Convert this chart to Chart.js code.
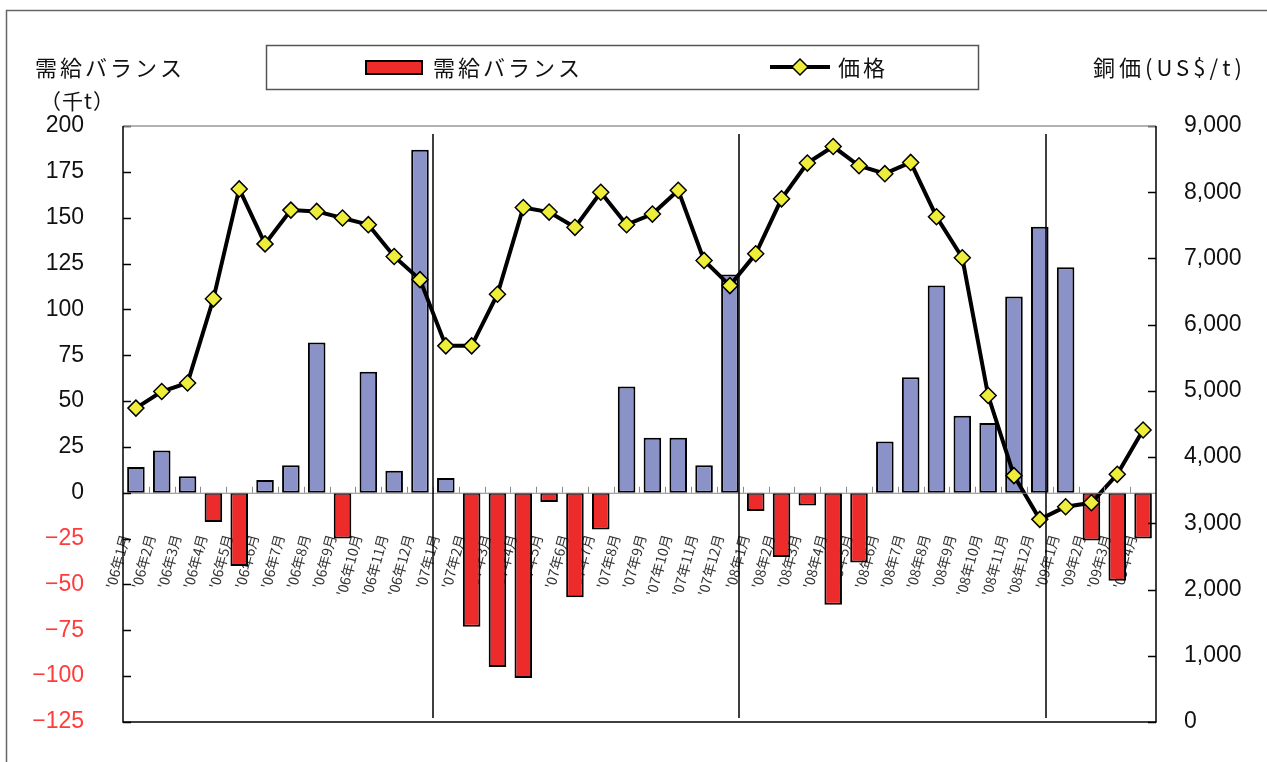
<!DOCTYPE html>
<html>
<head>
<meta charset="utf-8">
<script src="https://cdn.jsdelivr.net/npm/chart.js"></script>
<style>
  html, body { margin: 0; padding: 0; background: #fff; }
</style>
</head>
<body>
<canvas id="balanceChart" width="1267" height="762"></canvas>
<script>
// 月ラベル ('06年1月 〜 '09年4月)
const months = [
  "'06年1月", "'06年2月", "'06年3月", "'06年4月", "'06年5月", "'06年6月",
  "'06年7月", "'06年8月", "'06年9月", "'06年10月", "'06年11月", "'06年12月",
  "'07年1月", "'07年2月", "'07年3月", "'07年4月", "'07年5月", "'07年6月",
  "'07年7月", "'07年8月", "'07年9月", "'07年10月", "'07年11月", "'07年12月",
  "'08年1月", "'08年2月", "'08年3月", "'08年4月", "'08年5月", "'08年6月",
  "'08年7月", "'08年8月", "'08年9月", "'08年10月", "'08年11月", "'08年12月",
  "'09年1月", "'09年2月", "'09年3月", "'09年4月"
];

// 需給バランス (千t)
const balance = [
  14, 23, 9, -16, -40, 7, 15, 82, -25, 66, 12, 187,
  8, -73, -95, -101, -5, -57, -20, 58, 30, 30, 15, 119,
  -10, -35, -7, -61, -38, 28, 63, 113, 42, 38, 107, 145,
  123, -26, -48, -25
];

// 銅価 (US$/t)
const price = [
  4740, 4990, 5120, 6390, 8050, 7220, 7730, 7710, 7610, 7510, 7030, 6680,
  5680, 5680, 6460, 7770, 7700, 7470, 8000, 7510, 7670, 8030, 6970, 6590,
  7070, 7900, 8440, 8690, 8400, 8280, 8450, 7630, 7010, 4930, 3720, 3060,
  3250, 3310, 3740, 4410
];

// 軸の範囲
const leftAxis = { min: -125, max: 200, step: 25 };
const rightAxis = { min: 0, max: 9000, step: 1000 };

const BLUE = '#8a92c8';
const RED = '#ee2b2b';
const YELLOW = '#eeee3a';
const JP = "'Noto Sans CJK JP', sans-serif";
const NUM = "'Liberation Sans', 'Noto Sans CJK JP', sans-serif";

Chart.defaults.font.family = NUM;

function diamond(ctx, x, y, r) {
  ctx.beginPath();
  ctx.moveTo(x, y - r);
  ctx.lineTo(x + r, y);
  ctx.lineTo(x, y + r);
  ctx.lineTo(x - r, y);
  ctx.closePath();
  ctx.fillStyle = YELLOW;
  ctx.fill();
  ctx.lineWidth = 1.5;
  ctx.strokeStyle = '#000';
  ctx.stroke();
}

// 枠・目盛り・年の区切り線
const framePlugin = {
  id: 'frame',
  beforeDraw(chart) {
    const ctx = chart.ctx;
    ctx.save();
    ctx.fillStyle = '#fff';
    ctx.fillRect(0, 0, chart.width, chart.height);
    ctx.strokeStyle = '#666';
    ctx.lineWidth = 1.5;
    ctx.strokeRect(6.5, 10.5, chart.width + 20, chart.height + 20);
    ctx.restore();
  },
  afterDatasetsDraw(chart) {
    const ctx = chart.ctx;
    const a = chart.chartArea;
    const xs = chart.scales.x, ys = chart.scales.y, y1 = chart.scales.y1;
    const w = (a.right - a.left) / months.length;
    const zero = ys.getPixelForValue(0);
    ctx.save();
    // ゼロ線と区切り目盛り
    ctx.strokeStyle = '#888';
    ctx.lineWidth = 1;
    ctx.beginPath();
    ctx.moveTo(a.left, zero + 0.5);
    ctx.lineTo(a.right, zero + 0.5);
    for (let i = 1; i < months.length; i++) {
      const px = Math.round(xs.getPixelForValue(i) - w / 2) + 0.5;
      ctx.moveTo(px, zero);
      ctx.lineTo(px, zero - 6);
    }
    ctx.stroke();
    // 年の区切り (少し左寄りに引かれている)
    ctx.strokeStyle = '#000';
    ctx.lineWidth = 1.5;
    ctx.beginPath();
    let k = 0;
    months.forEach((m, i) => {
      if (i > 0 && m.endsWith('年1月')) {
        const px = Math.round(xs.getPixelForValue(i) - w / 2 - k * 3.5);
        ctx.moveTo(px, a.top + 8);
        ctx.lineTo(px, a.bottom - 4);
        k++;
      }
    });
    ctx.stroke();
    // 内向き目盛り
    ctx.beginPath();
    ys.ticks.forEach(t => {
      const py = Math.round(ys.getPixelForValue(t.value)) + 0.5;
      ctx.moveTo(a.left, py);
      ctx.lineTo(a.left + 8, py);
    });
    y1.ticks.forEach(t => {
      const py = Math.round(y1.getPixelForValue(t.value)) + 0.5;
      ctx.moveTo(a.right, py);
      ctx.lineTo(a.right - 8, py);
    });
    ctx.stroke();
    // プロット枠
    ctx.strokeStyle = '#999';
    ctx.beginPath();
    ctx.moveTo(a.left, a.top);
    ctx.lineTo(a.right, a.top);
    ctx.stroke();
    ctx.strokeStyle = '#000';
    ctx.beginPath();
    ctx.moveTo(a.left, a.top);
    ctx.lineTo(a.left, a.bottom);
    ctx.lineTo(a.right, a.bottom);
    ctx.lineTo(a.right, a.top);
    ctx.stroke();
    ctx.restore();
  },
  afterDraw(chart) {
    const ctx = chart.ctx;
    ctx.save();
    ctx.fillStyle = '#111';
    ctx.textBaseline = 'middle';
    ctx.font = '22px ' + JP;
    ctx.letterSpacing = '3px';
    ctx.fillText('需給バランス', 35, 68);
    ctx.letterSpacing = '1px';
    ctx.font = '21px ' + JP;
    ctx.fillText('（千t）', 40, 101);
    ctx.font = '22px ' + JP;
    ctx.letterSpacing = '4px';
    ctx.fillText('銅価(US$/t)', 1093, 68);

    // 凡例
    ctx.letterSpacing = '3px';
    ctx.strokeStyle = '#555';
    ctx.lineWidth = 1.5;
    ctx.strokeRect(266.5, 45.5, 712, 44);
    ctx.fillStyle = RED;
    ctx.fillRect(366, 61, 56, 13);
    ctx.strokeStyle = '#000';
    ctx.lineWidth = 2;
    ctx.strokeRect(366, 61, 56, 13);
    ctx.fillStyle = '#111';
    ctx.font = '22px ' + JP;
    ctx.fillText(chart.data.datasets[1].label, 433, 68);
    ctx.lineWidth = 4;
    ctx.beginPath();
    ctx.moveTo(770, 67);
    ctx.lineTo(830, 67);
    ctx.stroke();
    diamond(ctx, 800, 67, 8);
    ctx.fillStyle = '#111';
    ctx.fillText(chart.data.datasets[0].label, 838, 68);
    ctx.restore();
  }
};

// 縦軸の幅を固定し、ラベル用の余白を取らない
function fixWidth(w) {
  return s => {
    s.width = w;
    s.paddingTop = 0;
    s.paddingBottom = 0;
  };
}

const ctx = document.getElementById('balanceChart').getContext('2d');

const balanceChart = new Chart(ctx, {
  type: 'bar',
  data: {
    labels: months,
    datasets: [
      {
        type: 'line',
        label: '価格',
        data: price,
        yAxisID: 'y1',
        order: 0,
        borderColor: '#000',
        borderWidth: 4,
        tension: 0,
        pointStyle: 'rectRot',
        pointRadius: 8,
        pointBackgroundColor: YELLOW,
        pointBorderColor: '#000',
        pointBorderWidth: 1.5
      },
      {
        type: 'bar',
        label: '需給バランス',
        data: balance,
        yAxisID: 'y',
        order: 1,
        backgroundColor: c => (c.raw < 0 ? RED : BLUE),
        borderColor: '#000',
        borderWidth: 2,
        borderSkipped: false,
        barPercentage: 0.68,
        categoryPercentage: 1.0
      }
    ]
  },
  options: {
    responsive: false,
    animation: false,
    devicePixelRatio: 1,
    layout: { padding: { top: 126, bottom: 40, left: 0, right: 0 } },
    plugins: {
      legend: { display: false },
      tooltip: { enabled: false }
    },
    scales: {
      x: {
        position: { y: 0 },
        z: 1,
        grid: { display: false },
        border: { display: false },
        ticks: {
          autoSkip: false,
          minRotation: 75,
          maxRotation: 75,
          padding: 32,
          labelOffset: -11,
          color: '#333',
          font: { size: 14, family: JP }
        },
        afterFit: s => { s.height = 0; }
      },
      y: {
        position: 'left',
        min: leftAxis.min,
        max: leftAxis.max,
        grid: { display: false },
        border: { display: false },
        ticks: {
          stepSize: leftAxis.step,
          padding: 31,
          color: c => (c.tick.value < 0 ? '#ff3b3b' : '#111'),
          font: { size: 23 },
          callback: v => (v < 0 ? '\u2212' + (-v) : String(v))
        },
        afterFit: fixWidth(123)
      },
      y1: {
        position: 'right',
        min: rightAxis.min,
        max: rightAxis.max,
        grid: { display: false },
        border: { display: false },
        ticks: {
          stepSize: rightAxis.step,
          padding: 20,
          color: '#111',
          font: { size: 23 },
          callback: v => v.toLocaleString('en-US')
        },
        afterFit: fixWidth(111)
      }
    }
  },
  plugins: [framePlugin]
});
</script>
</body>
</html>
